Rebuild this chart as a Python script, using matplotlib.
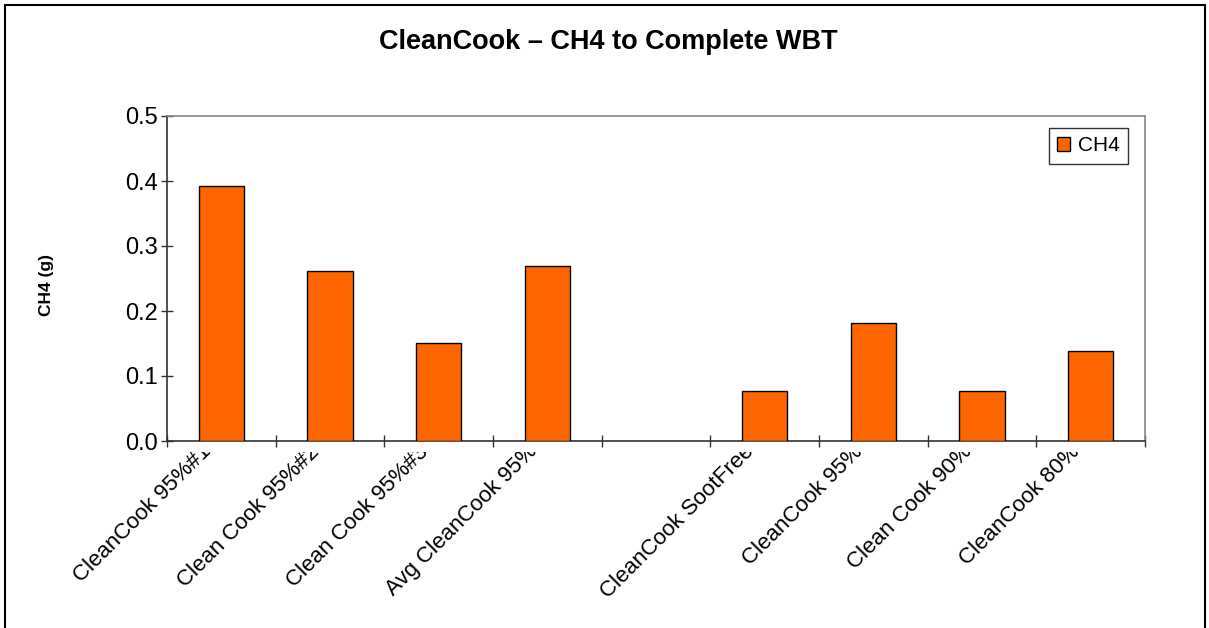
import matplotlib
matplotlib.use("Agg")
import matplotlib.pyplot as plt
from matplotlib.transforms import Bbox, ScaledTranslation
from matplotlib.patches import Rectangle

categories = ["CleanCook 95%#1", "Clean Cook 95%#2", "Clean Cook 95%#3",
              "Avg CleanCook 95%", "", "CleanCook SootFree", "CleanCook 95%",
              "Clean Cook 90%", "CleanCook 80%"]
ch4 = [0.392, 0.262, 0.151, 0.269, None, 0.077, 0.182, 0.077, 0.138]
yticks = [0.0, 0.1, 0.2, 0.3, 0.4, 0.5]

plt.rcParams['font.family'] = ['Liberation Sans', 'DejaVu Sans']

W, H = 1209, 628
fig = plt.figure(figsize=(W / 100, H / 100), dpi=100)
fig.patch.set_facecolor('white')

# outer chart border
fig.patches.append(Rectangle((5 / W, -0.01), (1205 - 5) / W, 1 - 5 / H + 0.01,
                             transform=fig.transFigure, fill=False,
                             edgecolor='black', linewidth=1.5))

ax = fig.add_axes([167 / W, (H - 441) / H, (1145 - 167) / W, (441 - 116) / H])
n = len(categories)
xs = list(range(n))
bx = [x for x, v in zip(xs, ch4) if v is not None]
bv = [v for v in ch4 if v is not None]
ax.bar(bx, bv, width=0.42, color='#FF6600', edgecolor='black', linewidth=1.0,
       label='CH4', zorder=3)

ax.set_xlim(-0.5, n - 0.5)
ax.set_ylim(0, 0.5)
ax.set_yticks(yticks)
ax.set_yticklabels([f"{t:.1f}" for t in yticks], fontsize=17)
ax.set_xticks([x - 0.5 for x in range(n + 1)])
ax.set_xticklabels([])
ax.tick_params(axis='both', direction='inout', length=9, width=1, color='#333333')
ax.tick_params(axis='y', pad=2)

for s in ['left', 'bottom']:
    ax.spines[s].set_color('#333333')
    ax.spines[s].set_linewidth(1.2)
for s in ['top', 'right']:
    ax.spines[s].set_color('#888888')
    ax.spines[s].set_linewidth(1.2)

clip = Bbox([[0, 0], [W, H - 452]])
for x, lab in zip(xs, categories):
    if not lab:
        continue
    tr = ax.get_xaxis_transform() + ScaledTranslation(-21 / 100, 0, fig.dpi_scale_trans)
    t = ax.text(x, 0, lab, transform=tr, rotation=45, rotation_mode='anchor',
                ha='right', va='top', fontsize=16)
    t.set_clip_on(True)
    t.set_clip_box(clip)

fig.text(608 / W, 1 - 42 / H, "CleanCook \u2013 CH4 to Complete WBT",
         ha='center', va='center', fontsize=19.5, fontweight='bold')
fig.text(46 / W, 1 - 285 / H, "CH4 (g)", ha='center', va='center',
         rotation=90, fontsize=12.5, fontweight='bold')

leg = ax.legend(loc='upper right', bbox_to_anchor=((1128 - 167) / (1145 - 167), (441 - 128) / (441 - 116)),
                fontsize=15, frameon=True, fancybox=False, edgecolor='black',
                handlelength=0.6, handleheight=0.6, handletextpad=0.4,
                borderpad=0.4, borderaxespad=0)
leg.get_frame().set_linewidth(1.0)

fig.savefig("out.png", dpi=100, facecolor='white')
